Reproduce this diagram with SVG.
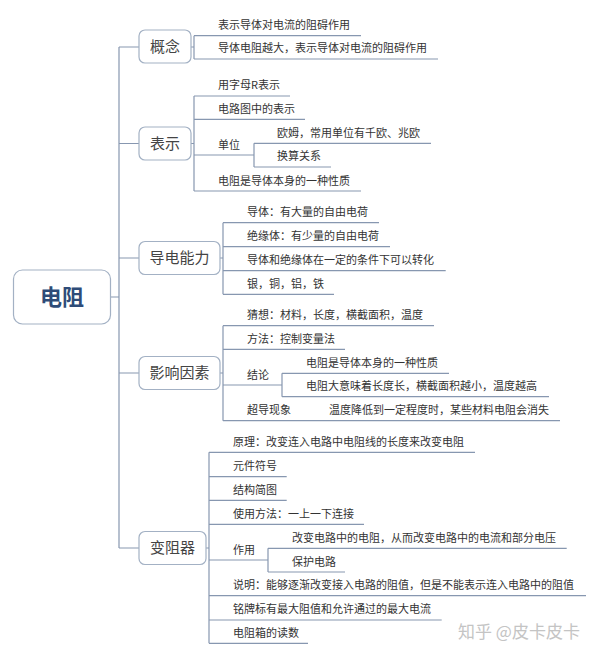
<svg xmlns="http://www.w3.org/2000/svg" width="600" height="657" viewBox="0 0 600 657">
<style>
.ln{fill:none;stroke:#8797b0;stroke-width:1.2}
.box{fill:#fff;stroke:#a3b1c4;stroke-width:1.2}
.lf{font-family:"Noto Sans CJK SC","Microsoft YaHei",sans-serif;font-size:11px;fill:#333}
.br{font-family:"Noto Sans CJK SC","Microsoft YaHei",sans-serif;font-size:15px;fill:#444;text-anchor:middle}
.rt{font-family:"Noto Sans CJK SC","Microsoft YaHei",sans-serif;font-size:22px;font-weight:bold;fill:#2e4c78;text-anchor:middle}
</style>
<rect width="600" height="657" fill="#fff"/>
<g id="connectors" class="ln">
<path d="M110.7,297H119M119,47V548M119,47H139M119,143.5H139M119,258H139M119,373H139M119,548H139"/>
<path d="M191,47H194M194,35.7V59M194,35.7H361M194,59H438"/>
<path d="M191,143.5H194M194,96V191M194,96H290M194,119.3H305M194,155H254M194,191H361M254,143.3V167M254,143.3H431M254,167H331"/>
<path d="M220,258H223M223,222.7V294.3M223,222.7H379M223,246.7H390M223,270.7H445.7M223,294.3H334"/>
<path d="M220,373H223M223,325.7V420.7M223,325.7H434M223,349.3H345M223,385H282M223,420.7H560M282,373.3V396.7M282,373.3H449M282,396.7H549"/>
<path d="M206,548H209M209,452.3V643.3M209,452.3H475M209,476.7H286.7M209,500.3H286.7M209,524.3H364M209,560H268M209,595.7H586M209,620H441.7M209,643.3H308M268,548.3V572M268,548.3H566.7M268,572H345"/>
</g>
<g id="root">
<rect class="box" x="13.5" y="270" width="97" height="54" rx="9"/>
<text class="rt" x="62" y="305">电阻</text>
</g>
<g id="gainian">
<rect class="box" x="139" y="30" width="52" height="33" rx="6"/>
<text class="br" x="165" y="52">概念</text>
<text class="lf" x="218" y="28.7">表示导体对电流的阻碍作用</text>
<text class="lf" x="218" y="52">导体电阻越大，表示导体对电流的阻碍作用</text>
</g>
<g id="biaoshi">
<rect class="box" x="139" y="127" width="52" height="33" rx="6"/>
<text class="br" x="165" y="148.5">表示</text>
<text class="lf" x="218" y="89">用字母R表示</text>
<text class="lf" x="218" y="112.5">电路图中的表示</text>
<text class="lf" x="218" y="148.5">单位</text>
<text class="lf" x="277" y="136.5">欧姆，常用单位有千欧、兆欧</text>
<text class="lf" x="277" y="160">换算关系</text>
<text class="lf" x="218" y="184.5">电阻是导体本身的一种性质</text>
</g>
<g id="daodian">
<rect class="box" x="139" y="241.5" width="81" height="33" rx="6"/>
<text class="br" x="179.5" y="263">导电能力</text>
<text class="lf" x="247" y="216">导体：有大量的自由电荷</text>
<text class="lf" x="247" y="240">绝缘体：有少量的自由电荷</text>
<text class="lf" x="247" y="264">导体和绝缘体在一定的条件下可以转化</text>
<text class="lf" x="247" y="287.5">银，铜，铝，铁</text>
</g>
<g id="yingxiang">
<rect class="box" x="139" y="356.5" width="81" height="33" rx="6"/>
<text class="br" x="179.5" y="378">影响因素</text>
<text class="lf" x="247" y="319">猜想：材料，长度，横截面积，温度</text>
<text class="lf" x="247" y="342.5">方法：控制变量法</text>
<text class="lf" x="247" y="378.5">结论</text>
<text class="lf" x="306" y="366.5">电阻是导体本身的一种性质</text>
<text class="lf" x="306" y="390">电阻大意味着长度长，横截面积越小，温度越高</text>
<text class="lf" x="247" y="414">超导现象</text>
<text class="lf" x="329" y="414">温度降低到一定程度时，某些材料电阻会消失</text>
</g>
<g id="bianzuqi">
<rect class="box" x="139" y="531.5" width="67" height="33" rx="6"/>
<text class="br" x="172.5" y="553">变阻器</text>
<text class="lf" x="233" y="445.5">原理：改变连入电路中电阻线的长度来改变电阻</text>
<text class="lf" x="233" y="470">元件符号</text>
<text class="lf" x="233" y="493.5">结构简图</text>
<text class="lf" x="233" y="517.5">使用方法：一上一下连接</text>
<text class="lf" x="233" y="553.5">作用</text>
<text class="lf" x="292" y="541.5">改变电路中的电阻，从而改变电路中的电流和部分电压</text>
<text class="lf" x="292" y="565.5">保护电路</text>
<text class="lf" x="233" y="589">说明：能够逐渐改变接入电路的阻值，但是不能表示连入电路中的阻值</text>
<text class="lf" x="233" y="613">铭牌标有最大阻值和允许通过的最大电流</text>
<text class="lf" x="233" y="636.5">电阻箱的读数</text>
</g>
<text x="458" y="638" font-family="Noto Sans CJK SC,sans-serif" font-size="17" fill="#c4c4c4">知乎 @皮卡皮卡</text>
</svg>
